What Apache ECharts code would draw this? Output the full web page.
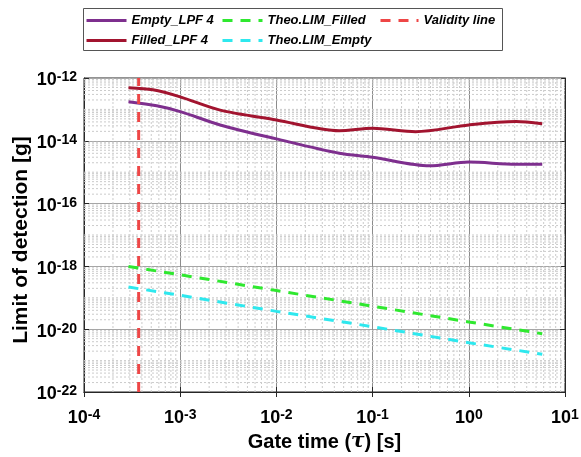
<!DOCTYPE html>
<html><head><meta charset="utf-8">
<script src="https://cdn.jsdelivr.net/npm/echarts@6/dist/echarts.min.js"></script>
<style>html,body{margin:0;padding:0;background:#fff}#c{width:581px;height:457px}</style>
</head><body><div id="c"></div>
<script>
// ---- data ----
const emptyTau  = [2.9e-4, 5.7e-4, 1e-3, 2.6e-3, 1e-2, 4.5e-2, 1e-1, 3.9e-1, 1.0, 3.1, 5.8];
const emptyLOD  = [1.76e-13, 1.3e-13, 8.5e-14, 3.2e-14, 1.15e-14, 4e-15, 3e-15, 1.6e-15, 2.1e-15, 1.8e-15, 1.8e-15];
const filledTau = [2.9e-4, 5.2e-4, 1e-3, 2.6e-3, 1e-2, 4.5e-2, 1e-1, 2.8e-1, 1.0, 3.1, 5.8];
const filledLOD = [4.9e-13, 4.2e-13, 2.5e-13, 9.5e-14, 4.6e-14, 2.1e-14, 2.5e-14, 1.95e-14, 3.2e-14, 4.1e-14, 3.5e-14];
const theoTau    = [2.9e-4, 1e-3, 1e-2, 1e-1, 1.0, 5.8];
const theoFilled = [1.0e-18, 5.4e-19, 1.7e-19, 5.4e-20, 1.7e-20, 7.2e-21];
const theoEmpty  = [2.2e-19, 1.2e-19, 3.7e-20, 1.2e-20, 3.7e-21, 1.6e-21];
const validityTau = 3.7e-4;
const xTicks = [1e-4, 1e-3, 1e-2, 1e-1, 1, 10];
const yTicks = [1e-22, 1e-20, 1e-18, 1e-16, 1e-14, 1e-12];
const xMin = 1e-4, xMax = 10, yMin = 1e-22, yMax = 1e-12;
const seriesNames = ['Empty_LPF 4', 'Filled_LPF 4', 'Theo.LIM_Filled', 'Theo.LIM_Empty', 'Validity line'];
// tiny margin so the 10^-22 tick survives floating-point log rounding
const yAxisMin = yMin * 0.9999999;

// minor (2..9 x 10^n) grid values
const xMinor = [];
for (let n = -4; n <= 0; n++) for (let m = 2; m <= 9; m++) xMinor.push(m * Math.pow(10, n));
const yMinor = [];
for (let n = -22; n <= -13; n++) {
  for (let m = 2; m <= 9; m++) yMinor.push(m * Math.pow(10, n));
  if (n % 2 !== 0) yMinor.push(Math.pow(10, n));
}

const FONT = 'Liberation Sans, Arial, sans-serif';
function powLabel(v) {
  const e = Math.round(Math.log10(v));
  return '{b|10}{s|' + (e < 0 ? '-' : '') + Math.abs(e) + '}';
}
const richFor = (supLH) => ({
  b: {fontSize: 18, fontWeight: 'bold', fontFamily: FONT, color: '#000', lineHeight: 20},
  s: {fontSize: 14, fontWeight: 'bold', fontFamily: FONT, color: '#000', lineHeight: supLH, verticalAlign: 'top'}
});
const pairs = (xs, ys) => xs.map((x, i) => [x, ys[i]]);
const minorStyle = {stroke: '#cbcbcb', lineWidth: 1, lineDash: [2, 2]};
function minorSeries(list, vertical) {
  return {type: 'custom', silent: true, z: 1, clip: true, data: list.map(v => [v]),
    renderItem: function (params, api) {
      const v = api.value(0);
      const p1 = vertical ? api.coord([v, yMin]) : api.coord([xMin, v]);
      const p2 = vertical ? api.coord([v, yMax]) : api.coord([xMax, v]);
      return {type: 'line', shape: {x1: p1[0], y1: p1[1], x2: p2[0], y2: p2[1]}, style: minorStyle, silent: true};
    },
    encode: vertical ? {x: 0} : {y: 0}
  };
}
const tickOnly = (pos, isX) => Object.assign({
  type: 'log', logBase: 10, position: pos,
  axisLine: {show: true, lineStyle: {color: '#262626', width: 1}},
  axisTick: {show: true, inside: true, length: 5, lineStyle: {color: '#262626'}},
  axisLabel: {show: false}, splitLine: {show: false}
}, isX ? {min: xMin, max: xMax, interval: 1} : {min: yAxisMin, max: yMax, interval: 2});

const chart = echarts.init(document.getElementById('c'), null, {renderer: 'canvas'});
const legendText = {fontSize: 13, fontWeight: 'bold', fontStyle: 'italic', fontFamily: FONT, color: '#000'};
const legendBase = {orient: 'vertical', top: 14, itemWidth: 40, itemHeight: 14, itemGap: 7, padding: 0,
  textStyle: legendText, selectedMode: false, itemStyle: {opacity: 0}, lineStyle: {width: 3}};

chart.setOption({
  animation: false,
  backgroundColor: '#fff',
  graphic: [{type: 'rect', left: 83, top: 8, shape: {width: 419, height: 42},
    style: {fill: '#fff', stroke: '#555', lineWidth: 1}, z: -1, silent: true}],
  legend: [
    Object.assign({}, legendBase, {left: 85, data: [seriesNames[0], seriesNames[1]]}),
    Object.assign({}, legendBase, {left: 221, data: [seriesNames[2], seriesNames[3]]}),
    Object.assign({}, legendBase, {left: 379, itemWidth: 38, data: [seriesNames[4]]})
  ],
  grid: {left: 84, right: 16, top: 78, bottom: 65, containLabel: false, outerBoundsMode: 'none',
    show: true, borderColor: '#262626', borderWidth: 1, backgroundColor: '#fff'},
  xAxis: [{
    type: 'log', logBase: 10, min: xMin, max: xMax, interval: 1,
    axisLine: {show: true, lineStyle: {color: '#262626', width: 1}},
    axisTick: {show: true, inside: true, length: 5, lineStyle: {color: '#262626'}},
    axisLabel: {formatter: powLabel, rich: richFor(1), margin: 16, hideOverlap: false,
      showMinLabel: true, showMaxLabel: true, customValues: xTicks},
    splitLine: {show: true, lineStyle: {color: '#8c8c8c', width: 1}},
    name: 'Gate time ({t|τ}) [s]', nameLocation: 'middle', nameGap: 40, nameMoveOverlap: false,
    nameTextStyle: {fontSize: 20, fontWeight: 'bold', fontFamily: FONT, color: '#000',
      rich: {t: {fontSize: 20, fontStyle: 'italic', fontFamily: 'DejaVu Serif, serif', color: '#000'}}}
  }, tickOnly('top', true)],
  yAxis: [{
    type: 'log', logBase: 10, min: yAxisMin, max: yMax, interval: 2,
    axisLine: {show: true, lineStyle: {color: '#262626', width: 1}},
    axisTick: {show: true, inside: true, length: 5, lineStyle: {color: '#262626'}},
    axisLabel: {formatter: powLabel, rich: richFor(3), margin: 7, padding: [5, 0, 0, 0], hideOverlap: false,
      showMinLabel: true, showMaxLabel: true, customValues: yTicks},
    splitLine: {show: true, lineStyle: {color: '#a6a6a6', width: 1}},
    name: 'Limit of detection [g]', nameLocation: 'middle', nameGap: 52, nameRotate: 90, nameMoveOverlap: false,
    nameTextStyle: {fontSize: 21, fontWeight: 'bold', fontFamily: FONT, color: '#000', padding: [0, 10, 0, 0]}
  }, tickOnly('right', false)],
  series: [
    minorSeries(xMinor, true),
    minorSeries(yMinor, false),
    {name: seriesNames[0], type: 'line', data: pairs(emptyTau, emptyLOD), symbol: 'none', showSymbol: false, smooth: 0.3, z: 3,
      lineStyle: {color: '#7E2F8E', width: 3}, itemStyle: {color: '#7E2F8E'}},
    {name: seriesNames[1], type: 'line', data: pairs(filledTau, filledLOD), symbol: 'none', showSymbol: false, smooth: 0.3, z: 3,
      lineStyle: {color: '#A2142F', width: 3}, itemStyle: {color: '#A2142F'}},
    {name: seriesNames[2], type: 'line', data: pairs(theoTau, theoFilled), symbol: 'none', showSymbol: false, z: 3,
      lineStyle: {color: '#2fe82f', width: 3, type: [10, 8]}, itemStyle: {color: '#2fe82f'}},
    {name: seriesNames[3], type: 'line', data: pairs(theoTau, theoEmpty), symbol: 'none', showSymbol: false, z: 3,
      lineStyle: {color: '#2ee8ee', width: 3, type: [10, 8]}, itemStyle: {color: '#2ee8ee'}},
    {name: seriesNames[4], type: 'line', data: [[validityTau, yMin], [validityTau, yMax]], symbol: 'none', showSymbol: false, z: 4,
      lineStyle: {color: '#ee4646', width: 3, type: [10, 8]}, itemStyle: {color: '#ee4646'}}
  ]
});
</script>
</body></html>
